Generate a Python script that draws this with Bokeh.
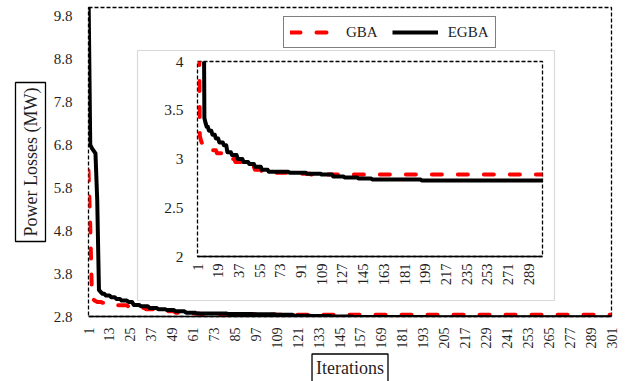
import numpy as np
from math import pi

from bokeh.plotting import figure
from bokeh.models import Range1d, FixedTicker, Legend, LegendItem, Title
from bokeh.layouts import column
from bokeh.embed import file_html
from bokeh.resources import INLINE

# Best-so-far power losses (MW) per iteration, kept as level / run-length pairs
gba_levels = [6.20, 4.90, 3.24, 3.19, 3.16, 3.14, 3.12, 3.09, 3.06, 3.03,
              3.00, 2.97, 2.95, 2.92, 2.89, 2.87, 2.86, 2.85, 2.84]
gba_runs = [1, 1, 1, 1, 1, 3, 4, 5, 6, 5,
            5, 6, 5, 6, 6, 8, 18, 17, 202]

egba_levels = [10.40, 6.80, 6.72, 6.66, 6.60, 5.52, 3.42, 3.37, 3.33, 3.29,
               3.25, 3.21, 3.17, 3.14, 3.07, 3.04, 3.00, 2.97, 2.95, 2.92,
               2.89, 2.87, 2.86, 2.85, 2.84, 2.82, 2.81, 2.80, 2.79, 2.78]
egba_runs = [1, 1, 1, 1, 1, 1, 1, 1, 2, 3,
             3, 3, 4, 3, 4, 5, 5, 5, 5, 6,
             6, 18, 15, 13, 10, 10, 12, 12, 43, 106]

iterations = np.arange(1, 302)
gba = np.repeat(gba_levels, gba_runs)
egba = np.repeat(egba_levels, egba_runs)

# Axis ticks
main_x_ticks = list(range(1, 302, 12))
main_y_ticks = [2.8, 3.8, 4.8, 5.8, 6.8, 7.8, 8.8, 9.8]
main_y_labels = ["2.8", "3.8", "4.8", "5.8", "6.8", "7.8", "8.8", "9.8"]
inset_x_ticks = list(range(1, 302, 18))
inset_y_ticks = [2, 2.5, 3, 3.5, 4]
inset_y_labels = ["2", "2.5", "3", "3.5", "4"]

FONT = "Liberation Serif"
INK = "#1f1f1f"
RED = "#ff0000"

# Main chart frame, in canvas pixels
LEFT, RIGHT, TOP, BOTTOM = 88, 611, 7, 316
X0, X1, Y0, Y1 = 1, 301, 2.8, 10.0
# Inset chart area (white panel with a light grey border), in canvas pixels
PANEL = (137, 50, 554, 300)


def canvas_to_data(px, py):
    x = X0 + (px - LEFT) * (X1 - X0) / (RIGHT - LEFT)
    y = Y0 + (BOTTOM - py) * (Y1 - Y0) / (BOTTOM - TOP)
    return x, y


def style_axes(p, xticks, yticks, ylabels, xsize, ysize, xstand, ystand):
    p.grid.visible = False
    p.background_fill_color = "white"
    p.outline_line_color = "black"
    p.outline_line_dash = "4 2"
    p.outline_line_width = 1.3

    xa = p.xaxis[0]
    xa.ticker = FixedTicker(ticks=xticks)
    xa.major_label_orientation = pi / 2
    xa.major_tick_in = 0
    xa.major_tick_out = 0
    xa.minor_tick_in = 0
    xa.minor_tick_out = 0
    xa.axis_line_color = "black"
    xa.axis_line_width = 1.5
    xa.major_label_text_font = FONT
    xa.major_label_text_font_size = xsize
    xa.major_label_text_color = INK
    xa.major_label_standoff = xstand

    ya = p.yaxis[0]
    ya.ticker = FixedTicker(ticks=yticks)
    ya.major_label_overrides = {float(t): s for t, s in zip(yticks, ylabels)}
    ya.major_tick_in = 0
    ya.major_tick_out = 0
    ya.minor_tick_in = 0
    ya.minor_tick_out = 0
    ya.axis_line_color = None
    ya.major_label_text_font = FONT
    ya.major_label_text_font_size = ysize
    ya.major_label_text_color = INK
    ya.major_label_standoff = ystand


def draw_series(p):
    r1 = p.line(iterations, gba, line_color=RED, line_width=4,
                line_dash="10 16", line_cap="round", line_join="round")
    r2 = p.line(iterations, egba, line_color="black", line_width=4,
                line_join="round")
    return r1, r2


# ---- main chart ----
main = figure(frame_width=RIGHT - LEFT, frame_height=BOTTOM - TOP,
              x_range=Range1d(X0, X1), y_range=Range1d(Y0, Y1),
              output_backend="svg", toolbar_location=None,
              min_border_left=LEFT, min_border_right=16,
              min_border_top=TOP, min_border_bottom=65)
main.border_fill_color = "white"
style_axes(main, main_x_ticks, main_y_ticks, main_y_labels,
           "14px", "15px", 11, 16)
r_gba, r_egba = draw_series(main)

# white panel behind the zoomed view
l, t = canvas_to_data(PANEL[0], PANEL[1])
r, b = canvas_to_data(PANEL[2], PANEL[3])
main.quad(left=l, right=r, top=t, bottom=b, fill_color="white",
          line_color="#d9d9d9", line_width=1.2)

legend = Legend(items=[LegendItem(label="GBA", renderers=[r_gba]),
                       LegendItem(label="EGBA", renderers=[r_egba])],
                orientation="horizontal", location=(283 - LEFT, BOTTOM - 48),
                border_line_color="black", border_line_width=1.3,
                background_fill_color="white", background_fill_alpha=1.0,
                padding=6, margin=0, spacing=14,
                glyph_width=46, glyph_height=18, label_height=18,
                label_standoff=10,
                label_text_font=FONT, label_text_font_size="15px",
                label_text_color=INK)
main.add_layout(legend)

y_title = Title(text="Power Losses (MW)", align="center",
                text_font=FONT, text_font_size="18px", text_color=INK,
                text_font_style="normal", standoff=10,
                border_line_color="black", border_line_width=1.3,
                background_fill_color="white", padding=5)
main.add_layout(y_title, "left")
x_title = Title(text="Iterations", align="center",
                text_font=FONT, text_font_size="18px", text_color=INK,
                text_font_style="normal", standoff=1,
                border_line_color="black", border_line_width=1.3,
                background_fill_color="white", padding=4)
main.add_layout(x_title, "below")

# ---- zoomed inset (frame 197..542 x 61..256 on the canvas) ----
inset = figure(frame_width=345, frame_height=195,
               x_range=Range1d(1, 301), y_range=Range1d(2, 4),
               output_backend="svg", toolbar_location=None,
               min_border_left=LEFT, min_border_right=16,
               min_border_top=11, min_border_bottom=44)
inset.border_fill_alpha = 0.0
style_axes(inset, inset_x_ticks, inset_y_ticks, inset_y_labels,
           "14.5px", "15.5px", 7, 14)
draw_series(inset)
inset.styles = {"position": "absolute", "left": "109px", "top": "50px",
                "z-index": "2", "background": "transparent"}

page = column(main, inset)
open("out.html", "w").write(file_html(page, INLINE))
